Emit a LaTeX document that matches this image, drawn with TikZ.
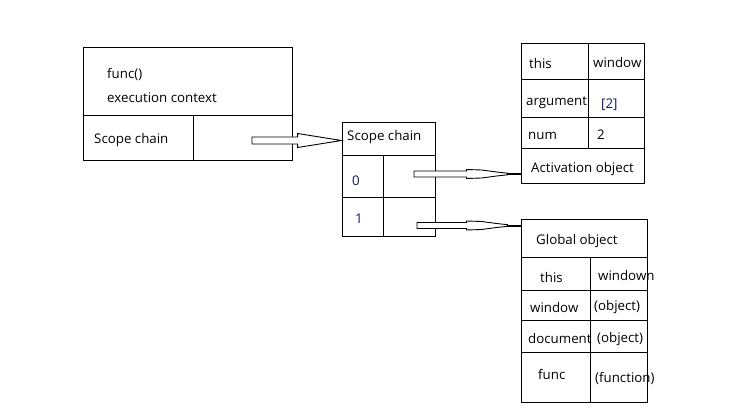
\documentclass[tikz,border=0pt]{standalone}
\usepackage{fontspec}
\setmainfont{Open Sans}
\usetikzlibrary{fit,calc}
\definecolor{navy}{RGB}{20,20,100}
\tikzstyle{cell} = [draw,line width=0.9pt,inner sep=0]
\tikzstyle{lbl} = [anchor=base west,inner sep=0,font=\fontsize{13.3}{15}\selectfont]
\tikzstyle{arr} = [draw,line width=0.9pt,fill=white]
\newcommand{\widearrow}[2]{%
  \draw[arr] let \p1=(#1), \p2=(#2) in
    (\x1,\y1-3.5pt) -- (\x2-44pt,\y1-3.5pt) -- (\x2-44pt,\y1-7pt) -- (\x2,\y1)
    -- (\x2-44pt,\y1+7pt) -- (\x2-44pt,\y1+3.5pt) -- (\x1,\y1+3.5pt) -- cycle;}
\newcommand{\slimarrow}[2]{%
  \draw[line width=2pt] let \p1=(#1), \p2=(#2) in (\x2-14pt,\y1) -- (\x2,\y1);
  \draw[arr] let \p1=(#1), \p2=(#2) in
    (\x1,\y1-3pt) -- (\x2-54pt,\y1-3pt) -- (\x2-54pt,\y1-4.5pt) -- (\x2-39pt,\y1-4pt)
    -- (\x2-24pt,\y1-2pt) -- (\x2-13pt,\y1-0.8pt) -- (\x2-13pt,\y1+0.8pt)
    -- (\x2-24pt,\y1+2pt) -- (\x2-39pt,\y1+4pt) -- (\x2-54pt,\y1+4.5pt)
    -- (\x2-54pt,\y1+3pt) -- (\x1,\y1+3pt) -- cycle;}

\begin{document}
\begin{tikzpicture}[x=1pt,y=-1pt]
  \useasboundingbox (0,0) rectangle (743,414);

  % func() execution context
  \node[cell,fit={(83,47) (292,115)}]  (ctx)  {};
  \node[cell,fit={(83,115) (193,160)}] (ctxl) {};
  \node[cell,fit={(193,115) (292,160)}] (ctxr) {};
  \node[lbl] (fn)   at (107,79)  {func()};
  \node[lbl] (ec)   at (107,103) {execution context};
  \node[lbl] (sc)   at (94,144)  {Scope chain};

  % scope chain
  \node[cell,fit={(342,122) (435,155)}] (chain) {};
  \node[cell,fit={(342,155) (383,197)}] (c0l) {};
  \node[cell,fit={(383,155) (435,197)}] (c0r) {};
  \node[cell,fit={(342,197) (383,236)}] (c1l) {};
  \node[cell,fit={(383,197) (435,236)}] (c1r) {};
  \node[lbl] (chaint) at (347,141) {Scope chain};
  \node[lbl,text=navy] (zero) at (352,185) {0};
  \node[lbl,text=navy] (one)  at (355,223) {1};

  % activation object
  \node[cell,fit={(521,43) (588,79)}]   (ath)  {};
  \node[cell,fit={(588,43) (644,79)}]   (athv) {};
  \node[cell,fit={(521,79) (588,117)}]  (aar)  {};
  \node[cell,fit={(588,79) (644,117)}]  (aarv) {};
  \node[cell,fit={(521,117) (588,148)}] (anu)  {};
  \node[cell,fit={(588,117) (644,148)}] (anuv) {};
  \node[cell,fit={(521,148) (644,183)}] (act)  {};
  \node[lbl] (athis) at (529,69)  {this};
  \node[lbl] (awin)  at (593,68)  {window};
  \node[lbl] (aarg)  at (526,106) {argument};
  \node[lbl,text=navy] (aargv) at (601,109) {[2]};
  \node[lbl] (anum)  at (528,140) {num};
  \node[lbl] (anumv) at (597,140) {2};
  \node[lbl] (actt)  at (531,172) {Activation object};

  % global object
  \node[cell,fit={(521,219) (647,257)}] (glob) {};
  \node[cell,fit={(521,257) (590,290)}] (gth)  {};
  \node[cell,fit={(590,257) (647,290)}] (gthv) {};
  \node[cell,fit={(521,290) (590,320)}] (gwi)  {};
  \node[cell,fit={(590,290) (647,320)}] (gwiv) {};
  \node[cell,fit={(521,320) (590,352)}] (gdo)  {};
  \node[cell,fit={(590,320) (647,352)}] (gdov) {};
  \node[cell,fit={(521,352) (590,402)}] (gfu)  {};
  \node[cell,fit={(590,352) (647,402)}] (gfuv) {};
  \node[lbl] (globt) at (536,244) {Global object};
  \node[lbl] (gthis) at (540,282) {this};
  \node[lbl] (gthisv) at (598,280) {windown};
  \node[lbl] (gwin)  at (530,312) {window};
  \node[lbl] (gwinv) at (594,310) {(object)};
  \node[lbl] (gdoc)  at (528,343) {document};
  \node[lbl] (gdocv) at (597,342) {(object)};
  \node[lbl] (gfun)  at (538,379) {func};
  \node[lbl] (gfunv) at (595,382) {(function)};

  % pointers
  \coordinate (p1) at ($(ctxr.center)+(9.5,3)$);
  \coordinate (p2) at ($(c0r.center)+(5,-2)$);
  \coordinate (p3) at ($(c1r.center)+(8,9)$);
  \widearrow{p1}{p1 -| chain.west}
  \slimarrow{p2}{p2 -| act.west}
  \slimarrow{p3}{p3 -| glob.west}
\end{tikzpicture}
\end{document}
